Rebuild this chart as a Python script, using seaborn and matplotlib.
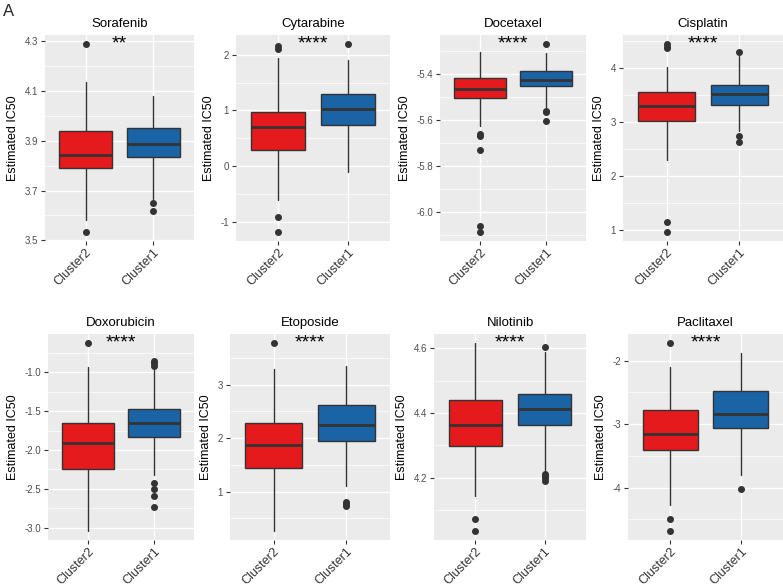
import numpy as np
import matplotlib
matplotlib.use("Agg")
import matplotlib.pyplot as plt
from matplotlib.ticker import FixedLocator, AutoMinorLocator, FormatStrFormatter
import seaborn as sns

# Donnees (statistiques des boites)
drugs = ['Sorafenib', 'Cytarabine', 'Docetaxel', 'Cisplatin',
         'Doxorubicin', 'Etoposide', 'Nilotinib', 'Paclitaxel']
groups = ['Cluster2', 'Cluster1']
signif = ['**', '****', '****', '****', '****', '****', '****', '****']

c2_lo = [3.581, -0.611, -5.626, 2.288, -3.039, 0.269, 4.144, -4.268]
c2_q1 = [3.791, 0.293, -5.506, 3.018, -2.242, 1.438, 4.298, -3.405]
c2_med = [3.845, 0.695, -5.464, 3.288, -1.916, 1.863, 4.363, -3.153]
c2_q3 = [3.938, 0.970, -5.417, 3.546, -1.655, 2.275, 4.440, -2.784]
c2_hi = [4.136, 1.946, -5.303, 4.006, -0.931, 3.288, 4.615, -2.095]
c2_out = [[4.288, 3.535],
          [2.156, 2.108, -0.922, -1.180],
          [-5.662, -5.670, -5.730, -6.061, -6.086],
          [4.43, 4.39, 4.36, 1.153, 0.975],
          [-0.627],
          [3.769],
          [4.073, 4.037],
          [-1.726, -4.489, -4.679]]

c1_lo = [3.668, -0.100, -5.545, 2.828, -2.323, 1.094, 4.224, -3.795]
c1_q1 = [3.834, 0.737, -5.454, 3.320, -1.839, 1.938, 4.362, -3.068]
c1_med = [3.887, 1.024, -5.426, 3.509, -1.647, 2.244, 4.412, -2.842]
c1_q3 = [3.952, 1.293, -5.387, 3.681, -1.475, 2.619, 4.459, -2.474]
c1_hi = [4.080, 1.916, -5.310, 4.209, -0.974, 3.344, 4.589, -1.874]
c1_out = [[3.652, 3.618],
          [2.190],
          [-5.271, -5.559, -5.567, -5.604],
          [4.294, 2.742, 2.620],
          [-0.859, -0.884, -0.914, -2.430, -2.503, -2.597, -2.730],
          [0.806, 0.769, 0.731],
          [4.605, 4.213, 4.205, 4.198, 4.191],
          [-4.016]]

# Graduations de l'axe y
y_ticks = [[3.5, 3.7, 3.9, 4.1, 4.3],
           [-1, 0, 1, 2],
           [-6.0, -5.8, -5.6, -5.4],
           [1, 2, 3, 4],
           [-3.0, -2.5, -2.0, -1.5, -1.0],
           [1, 2, 3],
           [4.2, 4.4, 4.6],
           [-4, -3, -2]]
tick_dec = [1, 0, 1, 0, 1, 0, 1, 0]

COLORS = ['#E41A1C', '#1A64A6']

sns.set_theme(style='darkgrid', rc={
    'axes.facecolor': '#EBEBEB',
    'grid.color': 'white',
    'axes.edgecolor': 'white',
    'xtick.bottom': True,
    'ytick.left': True,
    'xtick.color': '#333333',
    'ytick.color': '#333333',
    'xtick.major.size': 3,
    'ytick.major.size': 3,
    'ytick.minor.size': 0,
    'xtick.major.width': 0.8,
    'ytick.major.width': 0.8,
    'axes.unicode_minus': False,
})
plt.rcParams['font.family'] = ['Liberation Sans', 'DejaVu Sans']

W, H = 783, 586
fig = plt.figure(figsize=(W / 100, H / 100), dpi=100)

# Positions des panneaux en pixels (gauche, droite)
cols_top = [(45, 194), (236, 390), (440, 586), (623, 783)]
cols_bot = [(48, 194), (230, 390), (434, 586), (628, 783)]
rows = [(35, 241), (334, 540)]

for i, drug in enumerate(drugs):
    r = i // 4
    x0, x1 = (cols_top if r == 0 else cols_bot)[i % 4]
    y0, y1 = rows[r]
    ax = fig.add_axes([x0 / W, 1 - y1 / H, (x1 - x0) / W, (y1 - y0) / H])

    stats = [
        dict(med=c2_med[i], q1=c2_q1[i], q3=c2_q3[i], whislo=c2_lo[i],
             whishi=c2_hi[i], fliers=c2_out[i], label=groups[0]),
        dict(med=c1_med[i], q1=c1_q1[i], q3=c1_q3[i], whislo=c1_lo[i],
             whishi=c1_hi[i], fliers=c1_out[i], label=groups[1]),
    ]
    bp = ax.bxp(stats, positions=[1, 2], widths=0.78, patch_artist=True,
                showcaps=False,
                boxprops=dict(edgecolor='#333333', linewidth=1.0),
                whiskerprops=dict(color='#333333', linewidth=1.0),
                medianprops=dict(color='#333333', linewidth=2.0),
                flierprops=dict(marker='o', markerfacecolor='#333333',
                                markeredgecolor='#333333', markersize=4))
    for patch, col in zip(bp['boxes'], COLORS):
        patch.set_facecolor(col)

    allv = [c2_lo[i], c2_hi[i], c1_lo[i], c1_hi[i]] + c2_out[i] + c1_out[i]
    lo, hi = min(allv), max(allv)
    rng = hi - lo
    ax.set_ylim(lo - 0.05 * rng, hi + 0.05 * rng)
    ax.set_xlim(0.4, 2.6)

    ax.yaxis.set_major_locator(FixedLocator(y_ticks[i]))
    ax.yaxis.set_major_formatter(FormatStrFormatter('%.{}f'.format(tick_dec[i])))
    ax.yaxis.set_minor_locator(AutoMinorLocator(2))
    ax.grid(True, which='major', color='white', linewidth=1.0)
    ax.grid(True, which='minor', axis='y', color='white', linewidth=0.5)
    ax.set_axisbelow(True)

    ax.set_xticks([1, 2])
    ax.set_xticklabels(groups, rotation=45, ha='right', rotation_mode='anchor',
                       fontsize=9, color='#333333')
    ax.tick_params(axis='y', labelsize=7, labelcolor='#4D4D4D', pad=2)
    ax.tick_params(axis='x', pad=1)
    ax.set_ylabel('Estimated IC50', fontsize=9, color='black', labelpad=4)
    ax.set_xlabel('')
    ax.set_title(drug, fontsize=9.5, color='black', pad=6)
    for s in ax.spines.values():
        s.set_visible(False)

    ax.annotate(signif[i], xy=(1.5, hi), xytext=(0, 0), textcoords='offset points',
                ha='center', va='center', fontsize=14, color='black')

fig.text(3 / W, 1 - 4 / H, 'A', fontsize=12, va='top', ha='left')

fig.savefig('out.png', dpi=100)
